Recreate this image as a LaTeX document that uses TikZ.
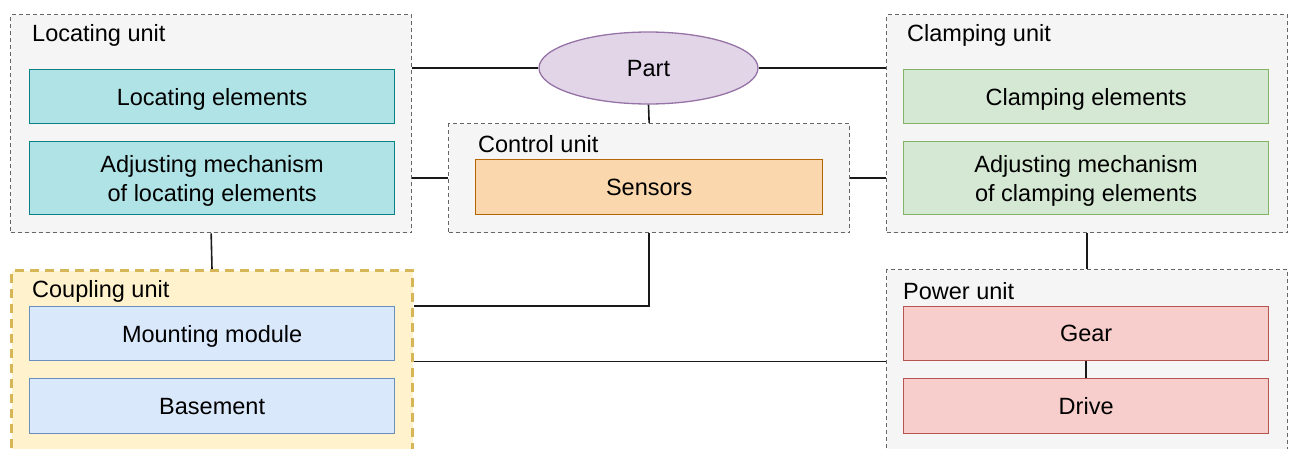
\documentclass[tikz,border=0pt]{standalone}
\usepackage{fontspec}
\setmainfont{Liberation Sans}
\usetikzlibrary{shapes.geometric}
\definecolor{unitfill}{HTML}{F5F5F5}
\definecolor{unitline}{HTML}{666666}
\definecolor{tealfill}{HTML}{B0E3E6}
\definecolor{tealline}{HTML}{0E8088}
\definecolor{greenfill}{HTML}{D5E8D4}
\definecolor{greenline}{HTML}{82B366}
\definecolor{orangefill}{HTML}{FAD7AC}
\definecolor{orangeline}{HTML}{B46504}
\definecolor{purplefill}{HTML}{E1D5E7}
\definecolor{purpleline}{HTML}{9673A6}
\definecolor{yellowfill}{HTML}{FFF2CC}
\definecolor{yellowline}{HTML}{D6B656}
\definecolor{bluefill}{HTML}{DAE8FC}
\definecolor{blueline}{HTML}{6C8EBF}
\definecolor{redfill}{HTML}{F8CECC}
\definecolor{redline}{HTML}{B85450}
\tikzset{
  unitbox/.style={draw=unitline, fill=unitfill, line width=1.3pt,
    dash pattern=on 4pt off 3pt, anchor=north west, inner sep=0pt},
  couplingbox/.style={draw=yellowline, fill=yellowfill, line width=3pt,
    dash pattern=on 9pt off 6pt, anchor=north west, inner sep=0pt},
  unitlabel/.style={anchor=west, inner sep=0pt, font=\fontsize{23.5}{28}\selectfont},
  elem/.style={anchor=north west, inner sep=0pt, line width=1.3pt, align=center,
    font=\fontsize{23.5}{29}\selectfont, text depth=0pt},
  link/.style={draw=black!90, line width=1.6pt}
}
\begin{document}
\begin{tikzpicture}[x=1pt, y=-1pt]
\useasboundingbox (0,0) rectangle (1290,448);
\clip (0,0) rectangle (1290,448);

% Unit containers
\node[unitbox, minimum width=401pt, minimum height=218pt] (loc) at (10,14) {};
\node[unitbox, minimum width=401pt, minimum height=218pt] (clamp) at (886,14) {};
\node[unitbox, minimum width=401pt, minimum height=109pt] (ctrl) at (448,123) {};
\node[couplingbox, minimum width=401pt, minimum height=200pt] (coup) at (10,269) {};
\node[unitbox, minimum width=401pt, minimum height=200pt] (power) at (886,269) {};

% Unit titles
\node[unitlabel] (loclabel) at (32,35) {Locating unit};
\node[unitlabel] (clamplabel) at (907,35) {Clamping unit};
\node[unitlabel] (ctrllabel) at (478,144.5) {Control unit};
\node[unitlabel] (couplabel) at (32,291) {Coupling unit};
\node[unitlabel] (powerlabel) at (903,291) {Power unit};

% Elements
\node[elem, draw=tealline, fill=tealfill, minimum width=365pt, minimum height=54pt] (locel) at (29,69) {Locating elements};
\node[elem, draw=tealline, fill=tealfill, minimum width=365pt, minimum height=73pt] (locadj) at (29,141) {Adjusting mechanism\\of locating elements};
\node[elem, draw=greenline, fill=greenfill, minimum width=365pt, minimum height=54pt] (clel) at (903,69) {Clamping elements};
\node[elem, draw=greenline, fill=greenfill, minimum width=365pt, minimum height=73pt] (cladj) at (903,141) {Adjusting mechanism\\of clamping elements};
\node[elem, draw=orangeline, fill=orangefill, minimum width=347pt, minimum height=55pt] (sens) at (475,159) {Sensors};
\node[elem, draw=blueline, fill=bluefill, minimum width=365pt, minimum height=54pt] (mount) at (29,306) {Mounting module};
\node[elem, draw=blueline, fill=bluefill, minimum width=365pt, minimum height=55pt] (base) at (29,378) {Basement};
\node[elem, draw=redline, fill=redfill, minimum width=365pt, minimum height=54pt] (gear) at (903,306) {Gear};
\node[elem, draw=redline, fill=redfill, minimum width=365pt, minimum height=55pt] (drive) at (903,378) {Drive};

% Part
\node[ellipse, draw=purpleline, fill=purplefill, line width=1.3pt,
  minimum width=219pt, minimum height=72pt, inner sep=0pt, text depth=0pt,
  font=\fontsize{23.5}{28}\selectfont] (part) at (648.5,68) {Part};

% Connectors
\draw[link] (part.west) -- (part.west -| loc.east);
\draw[link] (part.east) -- (part.east -| clamp.west);
\draw[link] (part.south) -- (ctrl.north);
\draw[link] (ctrl.west) -- (ctrl.west -| loc.east);
\draw[link] (ctrl.east) -- (ctrl.east -| clamp.west);
\draw[link] (loc.south) -- (coup.north);
\draw[link] (clamp.south) -- (power.north);
\draw[link] (ctrl.south) |- (coup.east |- mount.north);
\draw[link] (coup.east |- mount.south) -- (power.west |- mount.south);
\draw[link] (gear) -- (drive);
\end{tikzpicture}
\end{document}
